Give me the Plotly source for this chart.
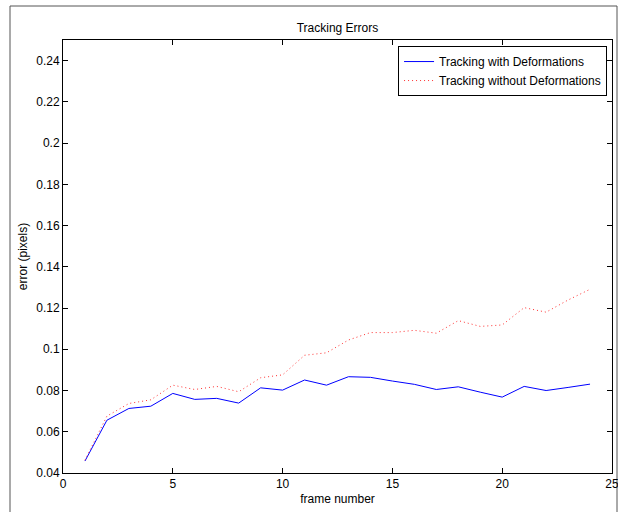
import plotly.graph_objects as go

frames = list(range(1, 25))
with_deform = [0.0458, 0.0656, 0.0713, 0.0724, 0.0786, 0.0757, 0.0762, 0.0739,
               0.0813, 0.0802, 0.0851, 0.0826, 0.0867, 0.0864, 0.0846, 0.0830,
               0.0805, 0.0818, 0.0792, 0.0768, 0.0820, 0.0800, 0.0815, 0.0831]
without_deform = [0.0462, 0.0676, 0.0737, 0.0755, 0.0826, 0.0805, 0.0820, 0.0794,
                  0.0862, 0.0876, 0.0971, 0.0983, 0.1045, 0.1081, 0.1081, 0.1092,
                  0.1078, 0.1139, 0.1111, 0.1118, 0.1202, 0.1180, 0.1239, 0.1291]
x_ticks = [0, 5, 10, 15, 20, 25]
y_ticks = [0.04, 0.06, 0.08, 0.1, 0.12, 0.14, 0.16, 0.18, 0.2, 0.22, 0.24]
y_tick_labels = ["0.04", "0.06", "0.08", "0.1", "0.12", "0.14", "0.16", "0.18", "0.2", "0.22", "0.24"]

FONT = "Liberation Sans, Arial, sans-serif"
FS = 12

fig = go.Figure()
fig.add_trace(go.Scatter(x=frames, y=with_deform, mode="lines",
                         name="Tracking with Deformations",
                         line=dict(color="#0000ff", width=1)))
fig.add_trace(go.Scatter(x=frames, y=without_deform, mode="lines",
                         name="Tracking without Deformations",
                         line=dict(color="#ff3030", width=1, dash="1px,3px")))

axis_common = dict(showline=True, linecolor="black", linewidth=1, mirror="ticks",
                   ticks="inside", ticklen=5, tickcolor="black", showgrid=False,
                   zeroline=False, ticklabeloverflow="allow", automargin=False,
                   tickfont=dict(family=FONT, size=FS, color="black"))

fig.update_layout(
    width=618, height=512,
    margin=dict(l=63, r=6, t=40, b=39, autoexpand=False),
    paper_bgcolor="white", plot_bgcolor="white",
    font=dict(family=FONT, size=FS, color="black"),
    title=dict(text="Tracking Errors", x=0.5, xref="paper", xanchor="center",
               y=1 - 28 / 512, yref="container", yanchor="middle",
               font=dict(family=FONT, size=FS, color="black")),
    xaxis=dict(range=[0, 25], tickvals=x_ticks, ticktext=[str(v) for v in x_ticks],
               title=dict(text="frame number", standoff=4,
                          font=dict(family=FONT, size=FS)), **axis_common),
    yaxis=dict(range=[0.04, 0.25], tickvals=y_ticks, ticktext=y_tick_labels,
               title=dict(text="error (pixels)", standoff=6,
                          font=dict(family=FONT, size=FS)), **axis_common),
    legend=dict(x=0.991, y=0.986, xanchor="right", yanchor="top",
                bordercolor="black", borderwidth=1, bgcolor="white",
                font=dict(family=FONT, size=FS, color="black"),
                tracegroupgap=0, itemwidth=30),
    showlegend=True,
    shapes=[dict(type="rect", xref="paper", yref="paper",
                 x0=(10 - 63) / 549, x1=(617 - 63) / 549,
                 y0=(473 - 520) / 433, y1=1 + (40 - 6) / 433,
                 line=dict(color="#555555", width=1), fillcolor="rgba(0,0,0,0)",
                 layer="below")],
)

fig.write_html("out.html",
               config={"displayModeBar": False},
               post_script="document.body.style.margin='0';document.body.style.overflow='hidden';")
